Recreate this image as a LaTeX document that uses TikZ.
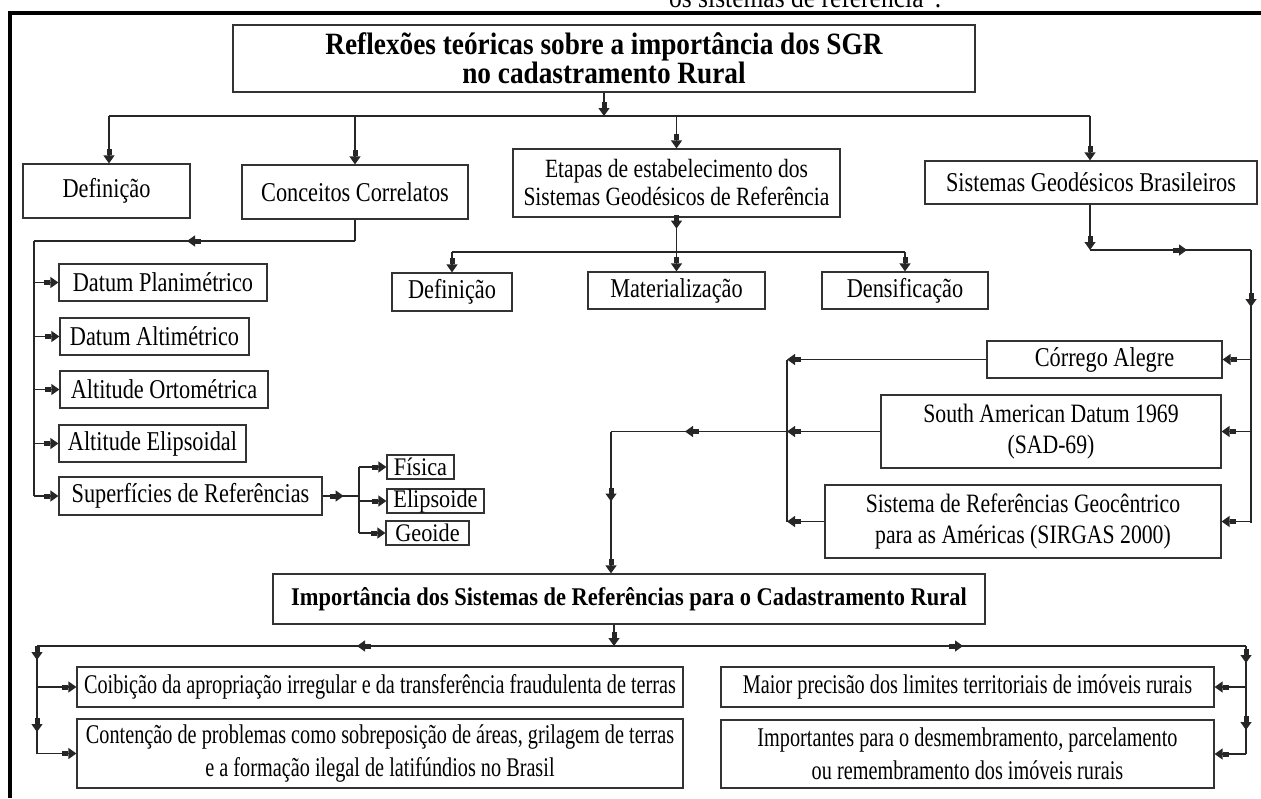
\documentclass[tikz,border=0pt]{standalone}
\usepackage{fontspec}
\setmainfont{Liberation Serif}[FakeStretch=0.88]
\newfontfamily\bodyff{Liberation Serif}[FakeStretch=0.82]
\newfontfamily\lowff{Liberation Serif}[FakeStretch=0.75]
\usetikzlibrary{arrows.meta,decorations.markings}
\newcommand\ftitle{\bfseries\fontsize{31}{28}\selectfont}
\newcommand\fbody{\bodyff\fontsize{27.2}{29}\selectfont}
\newcommand\fsmallbox{\fontsize{25.3}{27}\selectfont}
\newcommand\fetapas{\bodyff\fontsize{26.3}{28}\selectfont}
\newcommand\ftwo{\bodyff\fontsize{26.5}{31}\selectfont}
\newcommand\fimp{\bfseries\fontsize{25.5}{27}\selectfont}
\newcommand\fsm{\lowff\fontsize{27}{28}\selectfont}
\newcommand\fsmtwo{\lowff\fontsize{27}{33}\selectfont}
\newcommand\fcut{\fontsize{29}{30}\selectfont}
\tikzset{
  blk/.tip={Rectangle[length=6pt,width=5pt]Triangle[length=8pt,width=11pt]},
}
\begin{document}
\begin{tikzpicture}[x=1pt,y=-1pt,
  box/.style={draw=black!80,line width=1.2pt,align=center,inner sep=1pt,font=\fbody},
  sbox/.style={draw=black!80,line width=1.2pt,align=center,inner sep=0pt,font=\fsmallbox},
  sz/.style 2 args={minimum width=#1pt,minimum height=#2pt},
  conn/.style={draw=black!85,line width=1.3pt},
  am/.style={postaction={decorate,decoration={markings,mark=at position #1 with {\arrow{blk}}}}},
  frame/.style={line width=4pt,black},
]
\useasboundingbox (0,0) rectangle (1261,798);
% page frame and cut text
\node[anchor=base west,font=\fcut,inner sep=0pt] (cut) at (669,7) {os sistemas de referência”.};
\draw[frame] (8,13) -- (1261,13);
\draw[frame] (10,13) -- (10,798);

% nodes
\node[box,sz={742}{67},font=\ftitle] (title) at (604,58.5) {Reflexões teóricas sobre a importância dos SGR\\no cadastramento Rural};
\node[box,sz={167}{54}] (def1) at (106.5,191) {Definição};
\node[box,sz={226}{54}] (conc) at (355,192) {Conceitos Correlatos};
\node[box,sz={327}{68},font=\fetapas] (etapas) at (676.5,183) {Etapas de estabelecimento dos\\Sistemas Geodésicos de Referência};
\node[box,sz={332}{43}] (sgb) at (1091,182.5) {Sistemas Geodésicos Brasileiros};
\node[box,sz={208}{37}] (dp) at (163,282.5) {Datum Planimétrico};
\node[box,sz={189}{37}] (da) at (154.5,336.5) {Datum Altimétrico};
\node[box,sz={208}{37}] (ao) at (164,389.5) {Altitude Ortométrica};
\node[box,sz={187}{37}] (ae) at (152.5,443.5) {Altitude Elipsoidal};
\node[box,sz={263}{38}] (sr) at (190.5,496) {Superfícies de Referências};
\node[sbox,sz={67}{24}] (fis) at (420.5,467) {Física};
\node[sbox,sz={97}{24}] (eli) at (435.5,501) {Elipsoide};
\node[sbox,sz={83}{24}] (geo) at (427.5,533) {Geoide};
\node[box,sz={120}{38}] (def2) at (452,292) {Definição};
\node[box,sz={177}{37}] (mat) at (676.5,290.5) {Materialização};
\node[box,sz={166}{37}] (den) at (905,290.5) {Densificação};
\node[box,sz={235}{37}] (ca) at (1104.5,359.5) {Córrego Alegre};
\node[box,sz={340}{73},font=\ftwo] (sad) at (1051,431.5) {South American Datum 1969\\(SAD-69)};
\node[box,sz={396}{73},font=\ftwo] (sirgas) at (1023,521.5) {Sistema de Referências Geocêntrico\\para as Américas (SIRGAS 2000)};
\node[box,sz={712}{50},font=\fimp] (imp) at (629,599) {Importância dos Sistemas de Referências para o Cadastramento Rural};
\node[box,sz={606}{40},font=\fsm] (coib) at (380,687) {Coibição da apropriação irregular e da transferência fraudulenta de terras};
\node[box,sz={606}{69},font=\fsmtwo] (cont) at (380,753.5) {Contenção de problemas como sobreposição de áreas, grilagem de terras\\e a formação ilegal de latifúndios no Brasil};
\node[box,sz={493}{40},font=\fsm] (maior) at (967.5,687) {Maior precisão dos limites territoriais de imóveis rurais};
\node[box,sz={493}{68},font=\fsmtwo] (impt) at (967.5,754) {Importantes para o desmembramento, parcelamento\\ou remembramento dos imóveis rurais};

% title branches
\coordinate (h0) at (604,116);
\coordinate (hL) at (109,116);
\coordinate (hR) at (1090,116);
\draw[conn,-{blk}] (title.south) -- (h0);
\draw[conn] (hL) -- (hR);
\draw[conn,-{blk}] (hL) -- (hL |- def1.north);
\draw[conn,-{blk}] (conc.north |- hL) -- (conc.north);
\draw[conn,-{blk}] (etapas.north |- hL) -- (etapas.north);
\draw[conn,-{blk}] (hR) -- (hR |- sgb.north);

% conceitos correlatos
\coordinate (c1) at (355,241);
\coordinate (c2) at (34,241);
\draw[conn] (conc.south) -- (c1);
\draw[conn,am=168pt] (c1) -- (c2);
\draw[conn] (c2) -- (c2 |- sr.west);
\foreach \n in {dp,da,ao,ae,sr}{
  \draw[conn,-{blk}] (c2 |- \n.west) -- (\n.west);
}
% superficies
\coordinate (s1) at (359,496);
\draw[conn,am=21pt] (sr.east) -- (s1);
\draw[conn] (s1 |- fis.west) -- (s1 |- geo.west);
\foreach \n in {fis,eli,geo}{
  \draw[conn,-{blk}] (s1 |- \n.west) -- (\n.west);
}

% etapas
\coordinate (e1) at (676.5,252);
\draw[conn,am=11pt] (etapas.south) -- (e1);
\draw[conn] (def2.north |- e1) -- (den.north |- e1);
\foreach \n in {def2,mat,den}{
  \draw[conn,-{blk}] (\n.north |- e1) -- (\n.north);
}

% sistemas geodesicos brasileiros
\coordinate (g1) at (1090,250);
\coordinate (g2) at (1251,250);
\coordinate (g3) at (1251,523);
\draw[conn,-{blk}] (g1 |- sgb.south) -- (g1);
\draw[conn,am=97pt] (g1) -- (g2);
\draw[conn,am=57pt] (g2) -- (g3);
\foreach \n in {ca,sad,sirgas}{
  \draw[conn,-{blk}] (g2 |- \n.east) -- (\n.east);
}
\coordinate (k1) at (787,359.5);
\coordinate (k2) at (787,521.5);
\foreach \n in {ca,sad,sirgas}{
  \draw[conn,-{blk}] (\n.west) -- (k1 |- \n.west);
}
\draw[conn] (k1) -- (k2);
\coordinate (m1) at (611,431.5);
\draw[conn,am=102pt] (k1 |- sad.west) -- (m1);
\draw[conn,am=70pt,-{blk}] (m1) -- (m1 |- imp.north);

% importancia
\coordinate (i1) at (614,646);
\coordinate (iL) at (37,646);
\coordinate (iR) at (1246,646);
\draw[conn,-{blk}] (i1 |- imp.south) -- (i1);
\draw[conn,am=257pt] (i1) -- (iL);
\draw[conn,am=349pt] (i1) -- (iR);
\draw[conn,am=14pt,am=86pt] (iL) -- (iL |- cont.west);
\draw[conn,am=17pt,am=84pt] (iR) -- (iR |- impt.east);
\foreach \n in {coib,cont}{
  \draw[conn,-{blk}] (iL |- \n.west) -- (\n.west);
}
\foreach \n in {maior,impt}{
  \draw[conn,-{blk}] (iR |- \n.east) -- (\n.east);
}
\end{tikzpicture}
\end{document}
